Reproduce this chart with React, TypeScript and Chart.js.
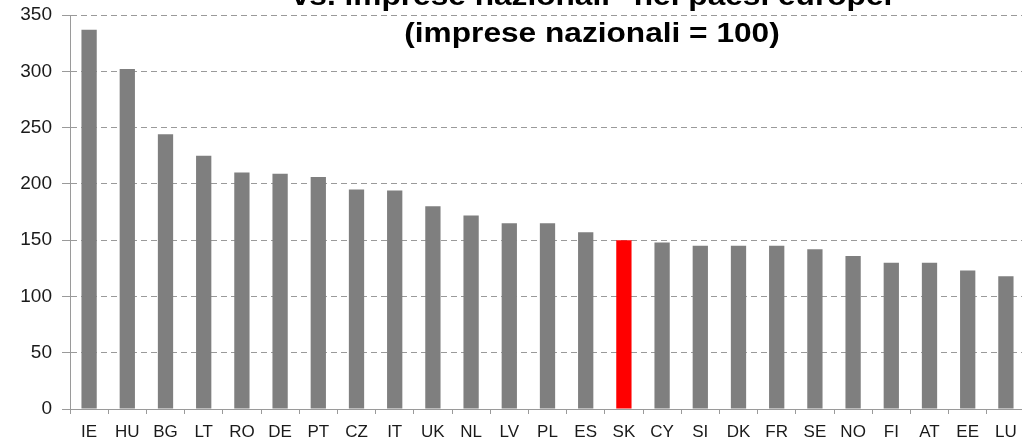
import React, { useEffect, useRef } from "react";
import { Chart, registerables } from "chart.js";

Chart.register(...registerables);

const categories = ["IE", "HU", "BG", "LT", "RO", "DE", "PT", "CZ", "IT", "UK", "NL", "LV", "PL", "ES", "SK", "CY", "SI", "DK", "FR", "SE", "NO", "FI", "AT", "EE", "LU"];
const values = [337, 302, 244, 225, 210, 209, 206, 195, 194, 180, 172, 165, 165, 157, 150, 148, 145, 145, 145, 142, 136, 130, 130, 123, 118];
const highlightCategory = "SK";
const yMin = 0;
const yMax = 350;
const yStep = 50;
const titleLines = ['vs. imprese nazionali" nei paesi europei', "(imprese nazionali = 100)"];

const BAR_GRAY = "#7f7f7f";
const BAR_RED = "#ff0000";

const titlePlugin = {
  id: "customTitle",
  afterDraw(chart: any) {
    const ctx = chart.ctx;
    ctx.save();
    ctx.fillStyle = "#000";
    ctx.font = "bold 28px 'Liberation Sans', Arial, sans-serif";
    ctx.textAlign = "center";
    ctx.textBaseline = "alphabetic";
    const cx = 592;
    const baselines = [5, 42];
    titleLines.forEach((line, i) => {
      ctx.save();
      ctx.translate(cx, baselines[i]);
      ctx.scale(1.13, 1);
      ctx.fillText(line, 0, 0);
      ctx.restore();
    });
    ctx.restore();
  },
};

export default function App() {
  const ref = useRef<HTMLCanvasElement | null>(null);

  useEffect(() => {
    if (!ref.current) return;
    const chart = new Chart(ref.current, {
      type: "bar",
      data: {
        labels: categories,
        datasets: [
          {
            data: values,
            backgroundColor: categories.map((c) => (c === highlightCategory ? BAR_RED : BAR_GRAY)),
            borderWidth: 0,
            categoryPercentage: 1,
            barPercentage: 0.4,
          },
        ],
      },
      options: {
        responsive: false,
        animation: false,
        layout: { padding: { left: 0, right: 5, top: 15, bottom: 0 } },
        plugins: {
          legend: { display: false },
          title: { display: false },
          tooltip: { enabled: false },
        },
        scales: {
          x: {
            afterFit(scale: any) {
              scale.height = 38;
              scale.paddingLeft = 0;
              scale.paddingRight = 0;
            },
            grid: {
              display: true,
              drawOnChartArea: false,
              drawTicks: true,
              tickLength: 5,
              color: "#9a9a9a",
              offset: true,
            },
            border: { display: true, color: "#9a9a9a", width: 1 },
            ticks: {
              color: "#1a1a1a",
              font: { family: "'Liberation Sans', Arial, sans-serif", size: 17 },
              padding: 8,
              maxRotation: 0,
              autoSkip: false,
            },
          },
          y: {
            min: yMin,
            max: yMax,
            afterFit(scale: any) {
              scale.width = 70;
              scale.paddingTop = 0;
              scale.paddingBottom = 0;
            },
            grid: {
              color: "#9a9a9a",
              lineWidth: 1,
              drawTicks: true,
              tickLength: 8,
              tickColor: "#9a9a9a",
              tickBorderDash: [],
            } as any,
            border: { display: true, color: "#9a9a9a", width: 1, dash: [6, 4] } as any,
            ticks: {
              stepSize: yStep,
              color: "#1a1a1a",
              font: { family: "'Liberation Sans', Arial, sans-serif", size: 19 },
              padding: 10,
            },
          },
        },
      },
      plugins: [titlePlugin],
    });
    return () => chart.destroy();
  }, []);

  return (
    <div style={{ position: "fixed", left: 0, top: 0, width: 1022, height: 447, overflow: "hidden", background: "#fff" }}>
      <canvas ref={ref} width={1030} height={447} style={{ display: "block" }} />
    </div>
  );
}
